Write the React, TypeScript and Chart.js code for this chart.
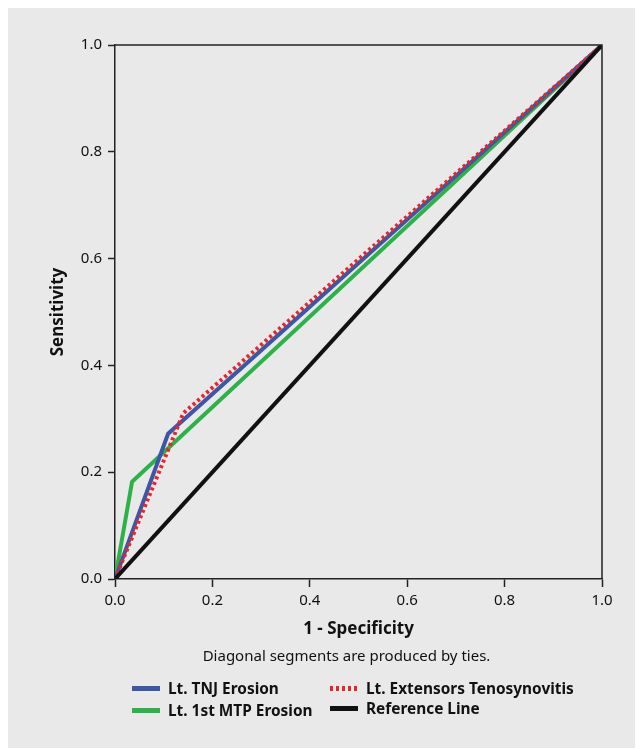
import React, { useEffect, useRef } from "react";
import { Chart, registerables } from "chart.js";

Chart.register(...registerables);

const tnjX = [0, 0.109, 1];
const tnjY = [0, 0.272, 1];
const mtpX = [0, 0.035, 1];
const mtpY = [0, 0.182, 1];
const extX = [0, 0.14, 1];
const extY = [0, 0.31, 1];
const refX = [0, 1];
const refY = [0, 1];
const tickValues = [0, 0.2, 0.4, 0.6, 0.8, 1.0];

const seriesNames = [
  "Lt. TNJ Erosion",
  "Lt. 1st MTP Erosion",
  "Lt. Extensors Tenosynovitis",
  "Reference Line",
];
const subtitleText = "Diagonal segments are produced by ties.";
const xTitle = "1 - Specificity";
const yTitle = "Sensitivity";

const BLUE = "#3b57a6";
const GREEN = "#2db24a";
const RED = "#e8262a";
const BLACK = "#111111";
const BG = "#e9e9e9";
const FONT = "'Noto Sans', 'Open Sans', sans-serif";

const toPts = (xs: number[], ys: number[]) => xs.map((x, i) => ({ x, y: ys[i] }));

const boxPlugin = {
  id: "boxPlugin",
  afterDatasetsDraw(chart: any) {
    const { ctx, chartArea } = chart;
    ctx.save();
    ctx.strokeStyle = "#222";
    ctx.lineWidth = 1.5;
    ctx.beginPath();
    ctx.moveTo(chartArea.left, chartArea.top);
    ctx.lineTo(chartArea.right, chartArea.top);
    ctx.lineTo(chartArea.right, chartArea.bottom);
    ctx.stroke();
    ctx.restore();
  },
};

export default function App() {
  const ref = useRef<HTMLCanvasElement>(null);
  useEffect(() => {
    if (!ref.current) return;
    const chart = new Chart(ref.current, {
      type: "line",
      data: {
        datasets: [
          {
            label: seriesNames[0],
            data: toPts(tnjX, tnjY),
            borderColor: BLUE,
            borderWidth: 4,
            pointRadius: 0,
            order: 2,
          },
          {
            label: seriesNames[1],
            data: toPts(mtpX, mtpY),
            borderColor: GREEN,
            borderWidth: 4,
            pointRadius: 0,
            order: 3,
          },
          {
            label: seriesNames[2],
            data: toPts(extX, extY),
            borderColor: RED,
            borderWidth: 4,
            borderDash: [3, 3],
            pointRadius: 0,
            order: 1,
          },
          {
            label: seriesNames[3],
            data: toPts(refX, refY),
            borderColor: BLACK,
            borderWidth: 4,
            pointRadius: 0,
            order: 0,
          },
        ],
      },
      options: {
        animation: false,
        responsive: false,
        layout: { padding: { left: 0, top: 38, right: 41, bottom: 109 } },
        plugins: {
          legend: { display: false },
          tooltip: { enabled: false },
        },
        scales: {
          x: {
            type: "linear",
            min: 0,
            max: 1,
            afterBuildTicks: (s: any) => {
              s.ticks = tickValues.map((v) => ({ value: v }));
            },
            afterFit: (s: any) => {
              s.height = 60;
            },
            ticks: {
              callback: (v: any) => Number(v).toFixed(1),
              color: "#111",
              font: { family: FONT, size: 15 },
              padding: 5,
            },
            grid: {
              drawOnChartArea: false,
              color: "#222",
              tickLength: 8,
              tickWidth: 1.5,
            },
            border: { color: "#222", width: 1.5 },
            title: {
              display: true,
              text: xTitle,
              color: "#111",
              font: { family: FONT, size: 17, weight: "bold" },
              padding: { top: 2, bottom: 0 },
            },
          },
          y: {
            type: "linear",
            min: 0,
            max: 1,
            afterBuildTicks: (s: any) => {
              s.ticks = tickValues.map((v) => ({ value: v }));
            },
            afterFit: (s: any) => {
              s.width = 107;
            },
            ticks: {
              callback: (v: any) => Number(v).toFixed(1),
              color: "#111",
              font: { family: FONT, size: 15 },
              padding: 6,
            },
            grid: {
              drawOnChartArea: false,
              color: "#222",
              tickLength: 7,
              tickWidth: 1.5,
            },
            border: { color: "#222", width: 1.5 },
            title: {
              display: true,
              text: yTitle,
              color: "#111",
              font: { family: FONT, size: 17, weight: "bold" },
              padding: { top: 40, bottom: 0 },
            },
          },
        },
      },
      plugins: [boxPlugin],
    });
    return () => chart.destroy();
  }, []);

  const swatch = (color: string, dashed: boolean) =>
    dashed ? (
      <span
        style={{
          display: "inline-block",
          width: 28,
          height: 5,
          marginRight: 8,
          backgroundImage: `repeating-linear-gradient(90deg, ${color} 0 3px, transparent 3px 6px)`,
          verticalAlign: "middle",
        }}
      />
    ) : (
      <span
        style={{
          display: "inline-block",
          width: 28,
          height: 5,
          marginRight: 8,
          background: color,
          verticalAlign: "middle",
        }}
      />
    );

  const legendItem = (i: number, color: string, dashed: boolean, left: number, top: number) => (
    <div
      style={{
        position: "absolute",
        left,
        top,
        fontFamily: FONT,
        fontWeight: "bold",
        fontSize: 15.4,
        color: "#111",
        whiteSpace: "nowrap",
        lineHeight: "20px",
      }}
    >
      {swatch(color, dashed)}
      <span style={{ verticalAlign: "middle" }}>{seriesNames[i]}</span>
    </div>
  );

  return (
    <div
      style={{
        position: "relative",
        width: 635,
        height: 741,
        marginTop: -1,
        background: BG,
      }}
    >
      <canvas ref={ref} width={635} height={741} style={{ display: "block" }} />
      <div
        style={{
          position: "absolute",
          left: 95,
          width: 487,
          top: 638,
          textAlign: "center",
          fontFamily: FONT,
          fontSize: 15,
          color: "#111",
        }}
      >
        {subtitleText}
      </div>
      {legendItem(0, BLUE, false, 124, 671)}
      {legendItem(1, GREEN, false, 124, 693)}
      {legendItem(2, RED, true, 322, 671)}
      {legendItem(3, BLACK, false, 322, 691)}
    </div>
  );
}
